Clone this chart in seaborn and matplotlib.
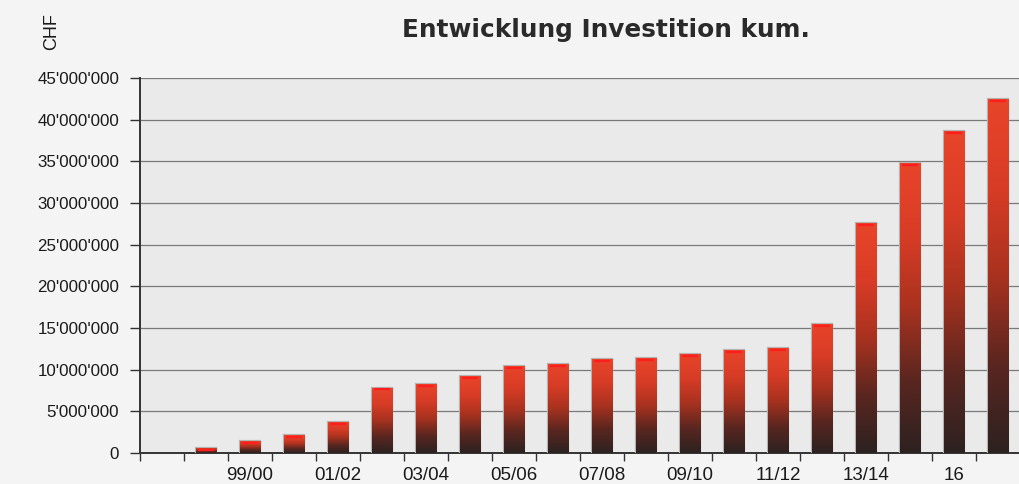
import numpy as np
import pandas as pd
import matplotlib
matplotlib.use('Agg')
import matplotlib.pyplot as plt
from matplotlib.colors import LinearSegmentedColormap
from matplotlib.ticker import FuncFormatter
import seaborn as sns

# ── Data ──────────────────────────────────────────────────────────────────────
periods = ['97/98', '98/99', '99/00', '00/01', '01/02', '02/03', '03/04', '04/05',
           '05/06', '06/07', '07/08', '08/09', '09/10', '10/11', '11/12', '12/13',
           '13/14', '14/15', '16', '17']
invest_kum = [0, 600_000, 1_450_000, 2_150_000, 3_750_000, 7_850_000, 8_300_000,
              9_200_000, 10_400_000, 10_700_000, 11_300_000, 11_400_000, 11_900_000,
              12_400_000, 12_600_000, 15_500_000, 27_600_000, 34_800_000,
              38_600_000, 42_450_000]
shown_labels = ['', '', '99/00', '', '01/02', '', '03/04', '', '05/06', '', '07/08',
                '', '09/10', '', '11/12', '', '13/14', '', '16', '']

df = pd.DataFrame({'Periode': periods, 'CHF': invest_kum})

# ── Style ─────────────────────────────────────────────────────────────────────
sns.set_style('white')
plt.rcParams['font.family'] = ['Liberation Sans', 'DejaVu Sans']

fig = plt.figure(figsize=(10.19, 4.84), dpi=100, facecolor='#f4f4f4')
ax = fig.add_axes([140 / 1019, 31 / 484, 880 / 1019, 375 / 484])
ax.set_facecolor('#eaeaea')

sns.barplot(data=df, x='Periode', y='CHF', order=periods, color='#d8402a',
            width=0.46, edgecolor='#b4b4b4', linewidth=1.6, ax=ax, zorder=3)

# gradient fill per bar: dark at the bottom, red at the top
grad = LinearSegmentedColormap.from_list(
    'bar', ['#2c2220', '#5a2620', '#a8321f', '#d83c26', '#e8452a'])
g = np.linspace(0, 1, 256).reshape(-1, 1)
for p in ax.patches:
    h = p.get_height()
    if h <= 0:
        p.set_visible(False)
        continue
    x0, w = p.get_x(), p.get_width()
    im = ax.imshow(g, cmap=grad, origin='lower', aspect='auto',
                   extent=[x0, x0 + w, 0, h], zorder=3.5)
    im.set_clip_path(p)
    ax.plot([x0 + 0.1 * w, x0 + 0.9 * w], [h - 220_000, h - 220_000],
            color='#ff1e1e', lw=1.6, zorder=4, solid_capstyle='butt')

ax.set_xlim(-0.5, 19.5)
ax.set_ylim(0, 45_000_000)
ax.set_yticks(np.arange(0, 45_000_001, 5_000_000))
ax.yaxis.set_major_formatter(FuncFormatter(lambda v, _: f"{int(v):,}".replace(',', "'")))
ax.grid(axis='y', color='#7a7a7a', lw=0.9, zorder=1)
ax.set_axisbelow(True)

# ticks between categories, labels on every other bar
ax.set_xticks(np.arange(-0.5, 19.5, 1), minor=False)
ax.set_xticklabels([''] * 20)
ax.set_xticks(np.arange(0, 20), minor=True)
ax.set_xticklabels(shown_labels, minor=True)
ax.tick_params(axis='x', which='major', direction='out', length=6, width=1,
               color='#333333', bottom=True)
ax.tick_params(axis='x', which='minor', length=0, pad=10, labelsize=13.5,
               labelcolor='#1a1a1a')
ax.tick_params(axis='y', direction='out', length=7, width=1, color='#333333',
               left=True, labelsize=12.2, labelcolor='#1a1a1a', pad=8)

for side in ['top', 'right']:
    ax.spines[side].set_visible(False)
for side in ['left', 'bottom']:
    ax.spines[side].set_color('#333333')
    ax.spines[side].set_linewidth(1.4)

ax.set_xlabel('')
ax.set_ylabel('')

fig.text(52 / 1019, 1 - 32 / 484, 'CHF', rotation=90, ha='center', va='center',
         fontsize=13, color='#1a1a1a')
fig.text(606 / 1019, 1 - 30 / 484, 'Entwicklung Investition kum.', ha='center',
         va='center', fontsize=17.8, fontweight='bold', color='#2a2a2a',
         family='DejaVu Sans')

plt.savefig('out.png', dpi=100, facecolor=fig.get_facecolor())
plt.close()
